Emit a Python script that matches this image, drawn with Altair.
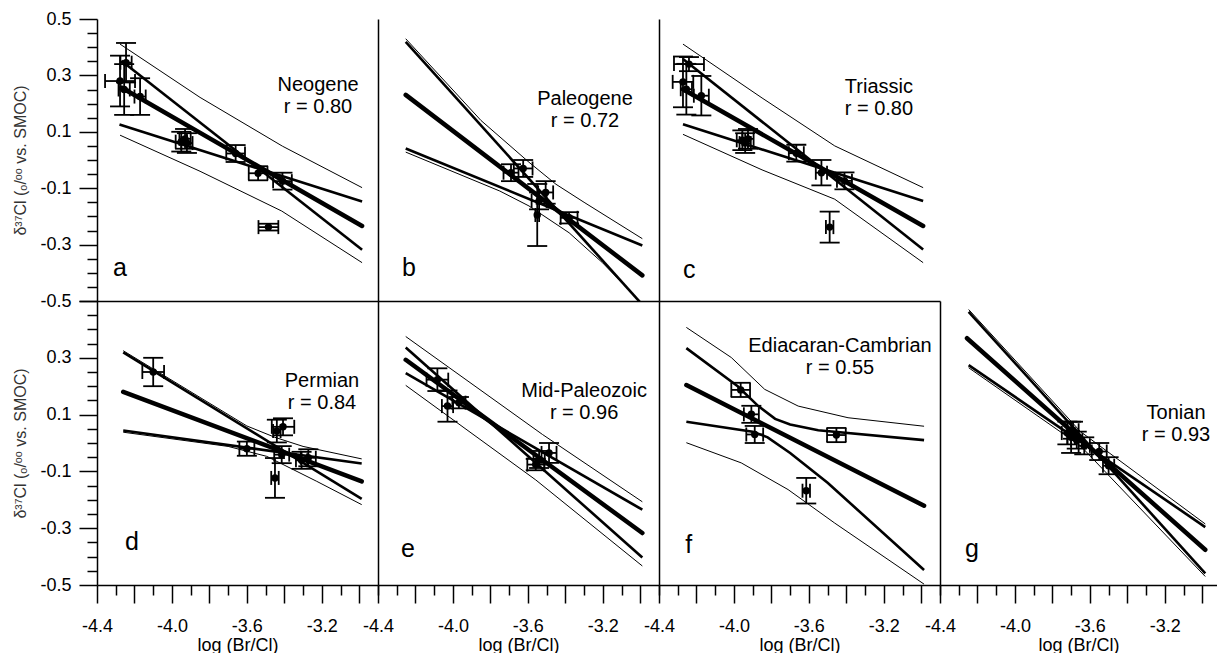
import altair as alt
import pandas as pd

# ---------------- axis values / labels ----------------
XT = [-4.4, -4.3, -4.2, -4.1, -4.0, -3.9, -3.8, -3.7, -3.6, -3.5, -3.4, -3.3, -3.2, -3.1, -3.0, -2.9]
YT = [-0.5, -0.45, -0.4, -0.35, -0.3, -0.25, -0.2, -0.15, -0.1, -0.05, 0.0,
      0.05, 0.1, 0.15, 0.2, 0.25, 0.3, 0.35, 0.4, 0.45, 0.5]
X_TITLE = "log (Br/Cl)"
Y_TITLE = "δ³⁷Cl (ₒ/ᵒᵒ vs. SMOC)"

LETTERS = ["a", "b", "c", "d", "e", "f", "g"]
NAMES = ["Neogene", "Paleogene", "Triassic", "Permian", "Mid-Paleozoic", "Ediacaran-Cambrian", "Tonian"]
R_TEXT = ["r = 0.80", "r = 0.72", "r = 0.80", "r = 0.84", "r = 0.96", "r = 0.55", "r = 0.93"]
NAME_X = [-3.22, -3.295, -3.226, -3.199, -3.30, -3.434, -3.14]
NAME_Y = [0.266, 0.216, 0.258, 0.217, 0.182, 0.341, 0.104]
LETTER_X = [-4.315, -4.272, -4.272, -4.25, -4.277, -4.26, -4.266]
LETTER_Y = [-0.413, -0.413, -0.417, -0.376, -0.401, -0.387, -0.401]

# ---------------- panel a : Neogene ----------------
A_X = [-4.245, -4.277, -4.255, -4.17, -3.95, -3.93, -3.92, -3.66, -3.54, -3.41, -3.485]
A_Y = [0.345, 0.28, 0.25, 0.225, 0.065, 0.075, 0.06, 0.023, -0.047, -0.075, -0.238]
A_XE = [0.03, 0.08, 0.03, 0.03, 0.03, 0.03, 0.03, 0.05, 0.05, 0.05, 0.053]
A_YE = [0.07, 0.09, 0.09, 0.065, 0.035, 0.035, 0.035, 0.03, 0.025, 0.03, 0.012]
A_FIT = [(-4.27, 0.257), (-2.985, -0.234)]
A_SLOPE1 = [(-4.27, 0.352), (-2.985, -0.318)]
A_SLOPE2 = [(-4.28, 0.126), (-2.985, -0.147)]
A_BAND1 = [(-4.277, 0.411), (-3.85, 0.222), (-3.41, 0.049), (-2.985, -0.098)]
A_BAND2 = [(-4.277, 0.088), (-3.85, -0.04), (-3.414, -0.181), (-2.985, -0.364)]

# ---------------- panel b : Paleogene ----------------
B_X = [-3.69, -3.625, -3.505, -3.54, -3.55, -3.38]
B_Y = [-0.045, -0.03, -0.115, -0.145, -0.195, -0.205]
B_XE = [0.04, 0.05, 0.04, 0.04, 0.01, 0.045]
B_YE = [0.03, 0.03, 0.04, 0.03, 0.11, 0.02]
B_FIT = [(-4.252, 0.231), (-2.989, -0.409)]
B_SLOPE1 = [(-4.252, 0.419), (-2.985, -0.516)]
B_SLOPE2 = [(-4.252, 0.041), (-2.989, -0.303)]
B_BAND1 = [(-4.252, 0.43), (-3.85, 0.14), (-3.594, -0.008), (-3.45, -0.086), (-3.30, -0.15), (-2.989, -0.279)]
B_BAND2 = [(-4.252, 0.028), (-3.75, -0.11), (-3.594, -0.163), (-3.38, -0.258), (-3.202, -0.364), (-2.985, -0.512)]

# ---------------- panel c : Triassic ----------------
C_X = [-4.24, -4.272, -4.254, -4.174, -3.955, -3.94, -3.925, -3.667, -3.533, -3.41, -3.489]
C_Y = [0.34, 0.277, 0.251, 0.228, 0.07, 0.06, 0.075, 0.024, -0.045, -0.074, -0.238]
C_XE = [0.08, 0.055, 0.03, 0.04, 0.03, 0.03, 0.03, 0.04, 0.03, 0.04, 0.02]
C_YE = [0.025, 0.09, 0.09, 0.07, 0.035, 0.035, 0.035, 0.03, 0.045, 0.03, 0.055]
C_FIT = [(-4.272, 0.251), (-2.99, -0.234)]
C_SLOPE1 = [(-4.272, 0.358), (-2.99, -0.317)]
C_SLOPE2 = [(-4.272, 0.127), (-2.99, -0.145)]
C_BAND1 = [(-4.272, 0.411), (-3.85, 0.22), (-3.462, 0.05), (-2.99, -0.098)]
C_BAND2 = [(-4.272, 0.091), (-3.85, -0.035), (-3.462, -0.139), (-2.99, -0.364)]

# ---------------- panel d : Permian ----------------
D_X = [-4.10, -3.60, -3.44, -3.407, -3.45, -3.414, -3.308, -3.272]
D_Y = [0.25, -0.02, 0.042, 0.057, -0.123, -0.041, -0.061, -0.052]
D_XE = [0.058, 0.04, 0.02, 0.06, 0.02, 0.04, 0.03, 0.04]
D_YE = [0.05, 0.025, 0.04, 0.03, 0.07, 0.03, 0.03, 0.03]
D_FIT = [(-4.26, 0.18), (-2.987, -0.135)]
D_SLOPE1 = [(-4.26, 0.319), (-2.987, -0.197)]
D_SLOPE2 = [(-4.26, 0.044), (-2.987, -0.072)]
D_BAND1 = [(-4.26, 0.325), (-3.60, 0.06), (-3.45, 0.02), (-3.30, -0.012), (-2.987, -0.056)]
D_BAND2 = [(-4.26, 0.038), (-3.70, -0.012), (-3.494, -0.047), (-3.227, -0.135), (-2.987, -0.217)]

# ---------------- panel e : Mid-Paleozoic ----------------
E_X = [-4.083, -4.029, -3.968, -3.54, -3.487, -3.558]
E_Y = [0.223, 0.13, 0.142, -0.058, -0.035, -0.076]
E_XE = [0.058, 0.03, 0.035, 0.03, 0.04, 0.045]
E_YE = [0.04, 0.055, 0.02, 0.03, 0.035, 0.02]
E_FIT = [(-4.252, 0.293), (-2.989, -0.317)]
E_SLOPE1 = [(-4.252, 0.336), (-2.989, -0.403)]
E_SLOPE2 = [(-4.252, 0.246), (-2.989, -0.235)]
E_BAND1 = [(-4.252, 0.375), (-3.522, 0.03), (-2.989, -0.207)]
E_BAND2 = [(-4.252, 0.203), (-3.558, -0.13), (-2.989, -0.433)]

# ---------------- panel f : Ediacaran-Cambrian ----------------
F_X = [-3.964, -3.907, -3.889, -3.453, -3.614]
F_Y = [0.187, 0.101, 0.03, 0.028, -0.168]
F_XE = [0.05, 0.04, 0.045, 0.05, 0.02]
F_YE = [0.025, 0.03, 0.03, 0.025, 0.045]
F_FIT = [(-4.254, 0.204), (-2.985, -0.221)]
F_SLOPE1 = [(-4.254, 0.334), (-3.98, 0.2), (-3.87, 0.13), (-3.78, 0.085), (-3.70, 0.065), (-3.55, 0.045), (-2.985, 0.01)]
F_SLOPE2 = [(-4.254, 0.075), (-3.90, 0.04), (-3.82, 0.02), (-3.70, -0.035), (-3.50, -0.14), (-2.985, -0.447)]
F_BAND1 = [(-4.254, 0.407), (-4.014, 0.301), (-3.836, 0.189), (-3.657, 0.13), (-3.391, 0.089), (-2.985, 0.059)]
F_BAND2 = [(-4.254, 0.001), (-3.961, -0.07), (-3.711, -0.164), (-3.462, -0.282), (-2.985, -0.497)]

# ---------------- panel g : Tonian ----------------
G_X = [-3.72, -3.70, -3.69, -3.67, -3.63, -3.55, -3.50]
G_Y = [0.035, 0.02, 0.045, 0.01, -0.01, -0.03, -0.08]
G_XE = [0.03, 0.02, 0.03, 0.03, 0.03, 0.04, 0.03]
G_YE = [0.04, 0.055, 0.03, 0.03, 0.03, 0.03, 0.03]
G_FIT = [(-4.256, 0.369), (-2.984, -0.376)]
G_SLOPE1 = [(-4.247, 0.462), (-2.984, -0.459)]
G_SLOPE2 = [(-4.247, 0.274), (-2.984, -0.296)]
G_BAND1 = [(-4.247, 0.47), (-3.65, 0.04), (-2.984, -0.285)]
G_BAND2 = [(-4.247, 0.265), (-3.65, -0.01), (-2.984, -0.47)]

FONT = "Liberation Sans"
MAJOR_Y = "abs(round(datum.value*20) % 4) == 2"
MAJOR_X = "abs(round(datum.value*10) % 2) == 0"
LABEL_X = "abs(round(datum.value*10) % 4) == 0"
FMT = "((datum.value < 0 ? '-' : '') + format(abs(datum.value), '.1f'))"


def bare_axis():
    return alt.Axis(ticks=False, labels=False, title=None, grid=False,
                    domainColor="black", domainWidth=1.5)


def y_axis_full(hide_top):
    test = MAJOR_Y + (" && datum.value < 0.45" if hide_top else "")
    return alt.Axis(values=YT, grid=False, domainColor="black", domainWidth=1.5,
                    tickColor="black", tickWidth=1.5,
                    tickSize={"condition": {"test": MAJOR_Y, "value": 18}, "value": 10},
                    labelExpr=f"({test}) ? {FMT} : ''",
                    labelFont=FONT, labelFontSize=18, labelColor="black", labelPadding=8,
                    labelFlush=False, labelOverlap=False,
                    title=Y_TITLE, titleFont=FONT, titleFontSize=16, titleFontWeight="normal",
                    titleColor="#333333", titlePadding=11)


def x_axis_full():
    return alt.Axis(values=XT, grid=False, domainColor="black", domainWidth=1.5,
                    tickColor="black", tickWidth=1.5,
                    tickSize={"condition": {"test": MAJOR_X, "value": 18}, "value": 10},
                    labelExpr=f"({LABEL_X}) ? {FMT} : ''",
                    labelFont=FONT, labelFontSize=18, labelColor="black", labelPadding=14,
                    labelFlush=False, labelOverlap=False,
                    title=X_TITLE, titleFont=FONT, titleFontSize=18, titleFontWeight="normal",
                    titleColor="black", titlePadding=1)


def lines_df(named):
    rows = []
    for name, pts in named:
        for i, (x, y) in enumerate(pts):
            rows.append({"line": name, "i": i, "x": x, "y": y})
    return pd.DataFrame(rows)


def panel(k, px, py, pxe, pye, fit, s1, s2, b1, b2, xaxis, yaxis, width, height, xmax):
    xs = alt.Scale(domain=[-4.4, xmax], nice=False, zero=False)
    ys = alt.Scale(domain=[-0.5, 0.5], nice=False, zero=False)

    def X(f="x"):
        return alt.X(f"{f}:Q", scale=xs, axis=xaxis)

    def Y(f="y"):
        return alt.Y(f"{f}:Q", scale=ys, axis=yaxis)

    pts = pd.DataFrame({"x": px, "y": py, "xe": pxe, "ye": pye})
    pts["xlo"] = pts["x"] - pts["xe"]
    pts["xhi"] = pts["x"] + pts["xe"]
    pts["ylo"] = pts["y"] - pts["ye"]
    pts["yhi"] = pts["y"] + pts["ye"]
    xcaps = pd.concat([pd.DataFrame({"x": pts["xlo"], "y": pts["y"]}),
                       pd.DataFrame({"x": pts["xhi"], "y": pts["y"]})])
    ycaps = pd.concat([pd.DataFrame({"x": pts["x"], "y": pts["ylo"]}),
                       pd.DataFrame({"x": pts["x"], "y": pts["yhi"]})])

    thin = alt.Chart(lines_df([("b1", b1), ("b2", b2)])).mark_line(
        color="black", strokeWidth=1.0, clip=True).encode(
        x=X(), y=Y(), detail="line:N", order="i:Q")
    mid = alt.Chart(lines_df([("s1", s1), ("s2", s2)])).mark_line(
        color="black", strokeWidth=2.6, clip=True).encode(
        x=X(), y=Y(), detail="line:N", order="i:Q")
    thick = alt.Chart(lines_df([("fit", fit)])).mark_line(
        color="black", strokeWidth=4.5, clip=True, strokeCap="round").encode(
        x=X(), y=Y(), detail="line:N", order="i:Q")

    hbar = alt.Chart(pts).mark_rule(color="black", strokeWidth=1.8).encode(
        x=X("xlo"), x2=alt.X2("xhi"), y=Y())
    vbar = alt.Chart(pts).mark_rule(color="black", strokeWidth=1.8).encode(
        x=X(), y=Y("ylo"), y2=alt.Y2("yhi"))
    xcap = alt.Chart(xcaps).mark_tick(orient="vertical", color="black", size=14,
                                      thickness=1.8, opacity=1).encode(x=X(), y=Y())
    ycap = alt.Chart(ycaps).mark_tick(orient="horizontal", color="black", size=20,
                                      thickness=1.8, opacity=1).encode(x=X(), y=Y())
    dots = alt.Chart(pts).mark_circle(color="black", size=55, opacity=1).encode(x=X(), y=Y())

    ann = pd.DataFrame({"x": [NAME_X[k]], "y": [NAME_Y[k]],
                        "t": [NAMES[k] + "\n" + R_TEXT[k]]})
    name_txt = alt.Chart(ann).mark_text(font=FONT, fontSize=20, color="black", align="center",
                                        baseline="middle", lineBreak="\n", lineHeight=22).encode(
        x=X(), y=Y(), text="t:N")
    let = pd.DataFrame({"x": [LETTER_X[k]], "y": [LETTER_Y[k]], "t": [LETTERS[k]]})
    let_txt = alt.Chart(let).mark_text(font=FONT, fontSize=25, color="black", align="left",
                                       baseline="alphabetic").encode(x=X(), y=Y(), text="t:N")

    return alt.layer(thin, mid, thick, hbar, vbar, xcap, ycap, dots, name_txt, let_txt).properties(
        width=width, height=height)


W = 281
H_TOP = 282
H_BOT = 284
W_G = 277
XMAX = -2.9
XMAX_G = -4.4 + 1.5 * W_G / W

pa = panel(0, A_X, A_Y, A_XE, A_YE, A_FIT, A_SLOPE1, A_SLOPE2, A_BAND1, A_BAND2,
           bare_axis(), y_axis_full(False), W, H_TOP, XMAX)
pb = panel(1, B_X, B_Y, B_XE, B_YE, B_FIT, B_SLOPE1, B_SLOPE2, B_BAND1, B_BAND2,
           bare_axis(), bare_axis(), W, H_TOP, XMAX)
pc = panel(2, C_X, C_Y, C_XE, C_YE, C_FIT, C_SLOPE1, C_SLOPE2, C_BAND1, C_BAND2,
           bare_axis(), bare_axis(), W, H_TOP, XMAX)
pd_ = panel(3, D_X, D_Y, D_XE, D_YE, D_FIT, D_SLOPE1, D_SLOPE2, D_BAND1, D_BAND2,
            x_axis_full(), y_axis_full(True), W, H_BOT, XMAX)
pe = panel(4, E_X, E_Y, E_XE, E_YE, E_FIT, E_SLOPE1, E_SLOPE2, E_BAND1, E_BAND2,
           x_axis_full(), bare_axis(), W, H_BOT, XMAX)
pf = panel(5, F_X, F_Y, F_XE, F_YE, F_FIT, F_SLOPE1, F_SLOPE2, F_BAND1, F_BAND2,
           x_axis_full(), bare_axis(), W, H_BOT, XMAX)
pg = panel(6, G_X, G_Y, G_XE, G_YE, G_FIT, G_SLOPE1, G_SLOPE2, G_BAND1, G_BAND2,
           x_axis_full(), bare_axis(), W_G, H_BOT, XMAX_G)

# empty cell to the right of panel c
blank = alt.Chart(pd.DataFrame({"v": [0.0]})).mark_point(opacity=0).encode(
    x=alt.X("v:Q", axis=None), y=alt.Y("v:Q", axis=None)).properties(width=W_G, height=H_TOP)

chart = alt.concat(pa, pb, pc, blank, pd_, pe, pf, pg, columns=4, spacing=0,
                   bounds="flush", align="each").properties(
    padding={"left": 12, "top": 10, "right": 0, "bottom": 0},
    background="white",
).configure_view(stroke=None)

chart.save("out.html", embed_options={"renderer": "svg", "actions": False})
